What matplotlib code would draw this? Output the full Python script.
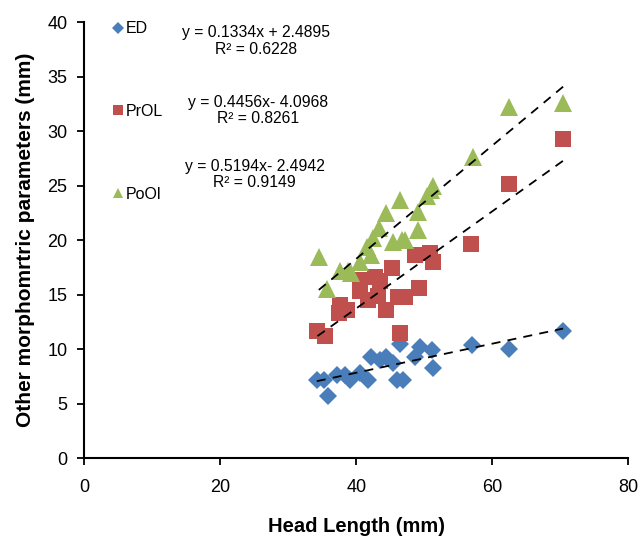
import numpy as np
import matplotlib
matplotlib.use("Agg")
import matplotlib.pyplot as plt
from matplotlib.lines import Line2D

plt.rcParams["font.family"] = ["Liberation Sans", "DejaVu Sans"]

# head length (mm) and parameter values
ed_x = [34.2, 35.2, 35.8, 37.1, 38.4, 39.1, 40.6, 41.8, 42.1, 43.5, 44.3, 45.4,
        46.0, 46.5, 46.9, 48.7, 49.4, 51.1, 51.3, 57.0, 62.5, 70.4]
ed_y = [7.2, 7.2, 5.7, 7.6, 7.6, 7.2, 7.8, 7.2, 9.3, 9.0, 9.3, 8.7,
        7.2, 10.5, 7.2, 9.3, 10.2, 9.9, 8.3, 10.4, 10.0, 11.7]

prol_x = [34.3, 35.4, 37.4, 37.6, 38.6, 40.6, 40.6, 41.8, 42.8, 43.5, 43.2, 44.3,
          45.3, 46.2, 47.2, 46.5, 48.7, 49.2, 50.9, 51.3, 56.8, 62.5, 70.4]
prol_y = [11.7, 11.2, 13.3, 14.0, 13.6, 16.3, 15.3, 14.5, 16.6, 16.2, 14.9, 13.6,
          17.4, 14.8, 14.8, 11.5, 18.6, 15.6, 18.8, 18.0, 19.6, 25.1, 29.3]

pool_x = [34.5, 35.7, 37.6, 38.8, 39.3, 40.6, 41.6, 42.1, 42.5, 43.3, 44.3, 45.4,
          46.7, 46.5, 47.2, 49.1, 49.1, 50.4, 51.0, 51.3, 57.1, 62.5, 70.4]
pool_y = [18.4, 15.5, 17.2, 17.2, 17.0, 18.0, 19.4, 18.6, 20.2, 21.1, 22.5, 19.8,
          20.0, 23.7, 20.0, 22.6, 20.9, 24.0, 24.6, 25.0, 27.6, 32.2, 32.6]

fits = {"ED": (0.1334, 2.4895, 0.6228),
        "PrOL": (0.4456, -4.0968, 0.8261),
        "PoOl": (0.5194, -2.4942, 0.9149)}

fig = plt.figure(figsize=(6.39, 5.37), dpi=100)
ax = fig.add_axes([0.1315, 0.147, 0.852, 0.812])

series = [("ED", ed_x, ed_y, "D", "#4a7ebb", 9.5),
          ("PrOL", prol_x, prol_y, "s", "#c0504d", 12),
          ("PoOl", pool_x, pool_y, "^", "#9bbb59", 12.5)]

for name, xs, ys, mk, col, ms in series:
    ax.plot(xs, ys, linestyle="None", marker=mk, color=col, markersize=ms,
            markeredgewidth=0, label=name)
    m, b, r2 = fits[name]
    xx = np.array([min(xs), max(xs)])
    ax.plot(xx, m * xx + b, color="black", linestyle=(0, (5, 4)), linewidth=1.3)

# equation labels
eq_pos = [(25.2, 38.25, "y = 0.1334x + 2.4895", "R² = 0.6228"),
          (25.6, 31.9, "y = 0.4456x- 4.0968", "R² = 0.8261"),
          (25.1, 26.0, "y = 0.5194x- 2.4942", "R² = 0.9149")]
for x, y, l1, l2 in eq_pos:
    ax.text(x, y, l1 + "\n" + l2, ha="center", va="center", fontsize=11.3,
            linespacing=1.1)

handles = [Line2D([], [], linestyle="None", marker=mk, color=col, markersize=ms * 0.6,
                  markeredgewidth=0) for _, _, _, mk, col, ms in series]
ax.legend(handles, [s[0] for s in series], loc="upper left",
          bbox_to_anchor=(0.028, 1.035), frameon=False, fontsize=11.5,
          labelspacing=4.25, handlelength=0.6, handletextpad=0.15)

ax.set_xlim(0, 80)
ax.set_ylim(0, 40)
ax.set_xticks([0, 20, 40, 60, 80])
ax.set_yticks(range(0, 41, 5))
for s in ["top", "right"]:
    ax.spines[s].set_visible(False)
for s in ["left", "bottom"]:
    ax.spines[s].set_linewidth(1.5)
ax.tick_params(direction="out", length=5, width=1.3, labelsize=13, pad=7)
ax.tick_params(axis="x", pad=10)
ax.set_xlabel("Head Length (mm)", fontsize=14.5, fontweight="bold", labelpad=15)
ax.set_ylabel("Other morphomrtric parameters (mm)", fontsize=15, fontweight="bold",
              labelpad=9)

fig.savefig("out.png", dpi=100)
